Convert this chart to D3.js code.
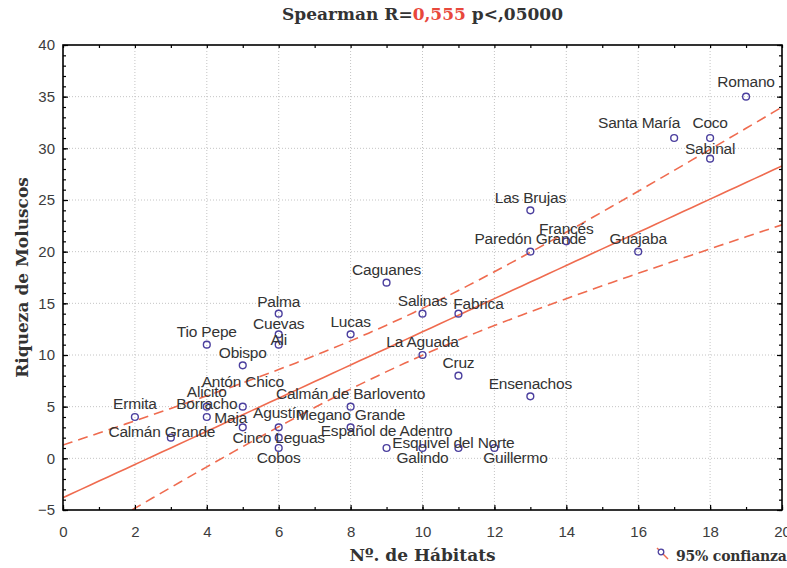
<!DOCTYPE html>
<html>
<head>
<meta charset="utf-8">
<script src="https://cdn.jsdelivr.net/npm/d3@7"></script>
<style>
  body { margin: 0; background: #fff; }
</style>
</head>
<body>
<script>

// islands, habitat count and mollusc richness
var islands = ['Romano', 'Santa María', 'Coco', 'Sabinal', 'Las Brujas', 'Francés',
  'Paredón Grande', 'Guajaba', 'Caguanes', 'Salinas', 'Fabrica', 'Palma', 'Lucas',
  'Cuevas', 'Ali', 'Tio Pepe', 'Obispo', 'La Aguada', 'Cruz', 'Ensenachos',
  'Antón Chico', 'Alicito', 'Borracho', 'Ermita', 'Maja', 'Calmán Grande', 'Agustín',
  'Cinco Leguas', 'Cobos', 'Calmán de Barlovento', 'Megano Grande', 'Español de Adentro',
  'Galindo', 'Esquivel del Norte', 'Guillermo']
var habitats = [19, 17, 18, 18, 13, 14, 13, 16, 9, 10, 11, 6, 8, 6, 6, 4, 5, 10, 11, 13,
  5, 4, 4, 2, 5, 3, 6, 6, 6, 8, 8, 9, 10, 11, 12]
var riqueza = [35, 31, 31, 29, 24, 21, 20, 20, 17, 14, 14, 14, 12, 12, 11, 11, 9, 10, 8, 6,
  5, 5, 4, 4, 3, 2, 3, 2, 1, 5, 3, 1, 1, 1, 1]

var xTicks = [0, 2, 4, 6, 8, 10, 12, 14, 16, 18, 20]
var yTicks = [-5, 0, 5, 10, 15, 20, 25, 30, 35, 40]
var tCrit = 2.035   // t(0.975, n-2)

// label nudges (px) where the default "centred above" spot is not used
var nudge = {
  'Romano': [0, -15], 'Santa María': [-35, -15], 'Coco': [0, -15], 'Sabinal': [0, -10],
  'Fabrica': [20, -10], 'Palma': [0, -12], 'Cuevas': [0, -11], 'Ali': [0, -5],
  'Calmán Grande': [-9, -6], 'Antón Chico': [0, -25], 'Alicito': [0, -15],
  'Maja': [-12, -10], 'Agustín': [0, -15], 'Cinco Leguas': [0, 0], 'Cobos': [0, 10],
  'Galindo': [0, 10], 'Guillermo': [21, 10], 'Esquivel del Norte': [-5, -5],
  'Español de Adentro': [0, -17]
}

svgWidth = 787
svgHeight = 568
margin = {"top": 45, "bottom": 58, "left": 63, "right": 5}
chartWidth = svgWidth - (margin.left + margin.right)
chartHeight = svgHeight - (margin.top + margin.bottom)

var lineColor = '#ef6b4f'
var dotColor = '#4b3f9e'
var textColor = '#333'

var data = islands.map(function(n, i) {
  return {name: n, x: habitats[i], y: riqueza[i]}
})

xScale = d3.scaleLinear().domain([0, 20]).range([margin.left, margin.left + chartWidth])
yScale = d3.scaleLinear().domain([-5, 40]).range([margin.top + chartHeight, margin.top])

// least squares fit + 95% confidence band of the mean
var n = data.length
var mx = d3.mean(habitats), my = d3.mean(riqueza)
var sxx = d3.sum(habitats, function(v) { return (v - mx) * (v - mx) })
var sxy = d3.sum(data, function(d) { return (d.x - mx) * (d.y - my) })
var slope = sxy / sxx
var icpt = my - slope * mx
var sse = d3.sum(data, function(d) { var r = d.y - (icpt + slope * d.x); return r * r })
var s = Math.sqrt(sse / (n - 2))

var xs = d3.range(0, 20.001, 0.25)
function fit(x) { return icpt + slope * x }
function half(x) { return tCrit * s * Math.sqrt(1 / n + (x - mx) * (x - mx) / sxx) }

var svg = d3.select("body").append("svg")
  .attr("width", svgWidth)
  .attr("height", svgHeight)
  .style("font-family", "'Liberation Sans', Arial, sans-serif")

svg.append('rect').attr('width', svgWidth).attr('height', svgHeight).attr('fill', '#fff')

// grid
svg.append('g').selectAll('line')
  .data(xTicks.slice(1, -1)).enter().append('line')
    .attr('x1', function(d) { return xScale(d) }).attr('x2', function(d) { return xScale(d) })
    .attr('y1', margin.top).attr('y2', margin.top + chartHeight)
    .attr('stroke', '#c4c4c4').attr('stroke-dasharray', '1,2')
svg.append('g').selectAll('line')
  .data(yTicks.slice(1, -1)).enter().append('line')
    .attr('y1', function(d) { return yScale(d) }).attr('y2', function(d) { return yScale(d) })
    .attr('x1', margin.left).attr('x2', margin.left + chartWidth)
    .attr('stroke', '#c4c4c4').attr('stroke-dasharray', '1,2')

// fit lines, clipped to the plot
svg.append('clipPath').attr('id', 'plotclip').append('rect')
  .attr('x', margin.left).attr('y', margin.top)
  .attr('width', chartWidth).attr('height', chartHeight)

var lines = svg.append('g').attr('clip-path', 'url(#plotclip)')
var mkLine = function(f) {
  return d3.line().x(function(x) { return xScale(x) }).y(function(x) { return yScale(f(x)) })
}
lines.append('path').datum(xs)
  .attr('d', mkLine(fit))
  .attr('fill', 'none').attr('stroke', lineColor).attr('stroke-width', 1.6)
lines.append('path').datum(xs)
  .attr('d', mkLine(function(x) { return fit(x) + half(x) }))
  .attr('fill', 'none').attr('stroke', lineColor).attr('stroke-width', 1.6)
  .attr('stroke-dasharray', '10,6')
lines.append('path').datum(xs)
  .attr('d', mkLine(function(x) { return fit(x) - half(x) }))
  .attr('fill', 'none').attr('stroke', lineColor).attr('stroke-width', 1.6)
  .attr('stroke-dasharray', '10,6')

// points
svg.append('g').selectAll('circle')
  .data(data).enter().append('circle')
    .attr('cx', function(d) { return xScale(d.x) })
    .attr('cy', function(d) { return yScale(d.y) })
    .attr('r', 3.4)
    .attr('fill', 'none')
    .attr('stroke', dotColor)
    .attr('stroke-width', 1.4)

// point labels
svg.append('g').selectAll('text')
  .data(data).enter().append('text')
    .attr('x', function(d) { return xScale(d.x) + (nudge[d.name] ? nudge[d.name][0] : 0) })
    .attr('y', function(d) { return yScale(d.y) + (nudge[d.name] ? nudge[d.name][1] : -13) })
    .attr('dy', '0.35em')
    .attr('text-anchor', 'middle')
    .attr('font-size', 15.5)
    .attr('letter-spacing', -0.2)
    .attr('fill', textColor)
    .text(function(d) { return d.name })

// axes: majors with labels, minors every unit, all ticks inward
function styleAxis(g) {
  g.select('.domain').remove()
  g.selectAll('.tick line').attr('stroke', '#000').attr('stroke-width', 1.2)
  g.selectAll('.tick text').attr('fill', '#3c3c3c').attr('font-size', 15)
    .attr('font-family', "'Liberation Sans', Arial, sans-serif")
}

xAxis = d3.axisBottom(xScale).tickValues(xTicks).tickSize(-5).tickPadding(16)
  .tickFormat(d3.format('d'))
yAxis = d3.axisLeft(yScale).tickValues(yTicks).tickSize(-5).tickPadding(8)
  .tickFormat(d3.format('d'))

svg.append('g').attr('transform', 'translate(0,' + (margin.top + chartHeight) + ')')
  .call(xAxis).call(styleAxis)
svg.append('g').attr('transform', 'translate(' + margin.left + ',0)')
  .call(yAxis).call(styleAxis)

var xMinor = d3.range(0, 21, 1), yMinor = d3.range(-5, 41, 1)
var minorX = d3.axisBottom(xScale).tickValues(xMinor).tickSize(-3).tickFormat('')
var minorXtop = d3.axisTop(xScale).tickValues(xMinor).tickSize(-3).tickFormat('')
var minorY = d3.axisLeft(yScale).tickValues(yMinor).tickSize(-3).tickFormat('')
var minorYr = d3.axisRight(yScale).tickValues(yMinor).tickSize(-3).tickFormat('')
svg.append('g').attr('transform', 'translate(0,' + (margin.top + chartHeight) + ')')
  .call(minorX).call(styleAxis)
svg.append('g').attr('transform', 'translate(0,' + margin.top + ')')
  .call(minorXtop).call(styleAxis)
svg.append('g').attr('transform', 'translate(' + margin.left + ',0)')
  .call(minorY).call(styleAxis)
svg.append('g').attr('transform', 'translate(' + (margin.left + chartWidth) + ',0)')
  .call(minorYr).call(styleAxis)
svg.append('g').attr('transform', 'translate(' + (margin.left + chartWidth) + ',0)')
  .call(d3.axisRight(yScale).tickValues(yTicks).tickSize(-5).tickFormat('')).call(styleAxis)

// frame
svg.append('rect')
  .attr('x', margin.left).attr('y', margin.top)
  .attr('width', chartWidth).attr('height', chartHeight)
  .attr('fill', 'none').attr('stroke', '#000').attr('stroke-width', 1.6)

// titles
var serif = "'DejaVu Serif', 'Liberation Serif', serif"
var title = svg.append('text')
  .attr('x', margin.left + chartWidth / 2).attr('y', 20)
  .attr('text-anchor', 'middle')
  .attr('font-family', serif).attr('font-weight', 'bold').attr('font-size', 17)
  .attr('fill', textColor)
title.append('tspan').text('Spearman R=')
title.append('tspan').attr('fill', '#e8483c').text('0,555')
title.append('tspan').text(' p<,05000')

svg.append('text')
  .attr('x', margin.left + chartWidth / 2).attr('y', 561)
  .attr('text-anchor', 'middle')
  .attr('font-family', serif).attr('font-weight', 'bold').attr('font-size', 17)
  .attr('fill', textColor)
  .text('Nº. de Hábitats')

svg.append('text')
  .attr('transform', 'translate(28,' + (margin.top + chartHeight / 2) + ') rotate(-90)')
  .attr('text-anchor', 'middle')
  .attr('font-family', serif).attr('font-weight', 'bold').attr('font-size', 17)
  .attr('fill', textColor)
  .text('Riqueza de Moluscos')

// legend
var leg = svg.append('g').attr('transform', 'translate(657,548)')
leg.append('line').attr('x1', 0).attr('y1', 0).attr('x2', 11).attr('y2', 11)
  .attr('stroke', lineColor).attr('stroke-width', 1.4)
leg.append('circle').attr('cx', 4).attr('cy', 4).attr('r', 2.8)
  .attr('fill', '#fff').attr('stroke', dotColor).attr('stroke-width', 1.3)
leg.append('text').attr('x', 19).attr('y', 13)
  .attr('font-family', serif).attr('font-weight', 'bold').attr('font-size', 14)
  .attr('letter-spacing', -0.2)
  .attr('fill', textColor)
  .text('95% confianza')

</script>
</body>
</html>
